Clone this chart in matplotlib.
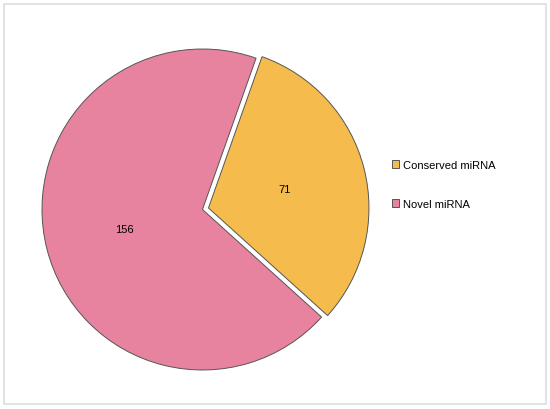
import numpy as np
import matplotlib.pyplot as plt
from matplotlib.patches import Rectangle

labels = ["Conserved miRNA", "Novel miRNA"]
counts = [71, 156]
colors = ["#F5BB4C", "#E8839F"]

plt.rcParams["font.family"] = ["Liberation Sans", "DejaVu Sans"]

fig = plt.figure(figsize=(5.5, 4.1), dpi=100)
# cadre gris clair autour de la figure
fig.patches.append(Rectangle((4 / 550, 5 / 410), 542 / 550, 400 / 410,
                             transform=fig.transFigure, fill=False,
                             edgecolor="#DDDDDD", lw=1.2))

ax = fig.add_axes([0.0409, 0.0476, 0.6545, 0.878])
wedges, texts, autotexts = ax.pie(
    counts, colors=colors, startangle=70.5, counterclock=False,
    explode=[0.0385, 0], autopct=lambda p: f"{p * sum(counts) / 100:.0f}",
    pctdistance=0.45, wedgeprops=dict(edgecolor="#555555", linewidth=0.7),
    textprops=dict(fontsize=8, color="black"))
for t, w, d in zip(autotexts, wedges, [0.49, 0.50]):
    cx, cy = w.center
    a = np.deg2rad((w.theta1 + w.theta2) / 2)
    t.set_position((cx + d * np.cos(a), cy + d * np.sin(a)))
lim = 180 / 160.5
ax.set_xlim(-lim, lim)
ax.set_ylim(-lim, lim)
ax.set_aspect("equal")
ax.axis("off")

fig.legend(wedges, labels, loc="center left", bbox_to_anchor=(0.7127, 0.5476),
           frameon=False, fontsize=8, handlelength=0.63, handleheight=0.63,
           handletextpad=0.36, labelspacing=2.6, borderpad=0, borderaxespad=0)

fig.savefig("out.png", dpi=100)
